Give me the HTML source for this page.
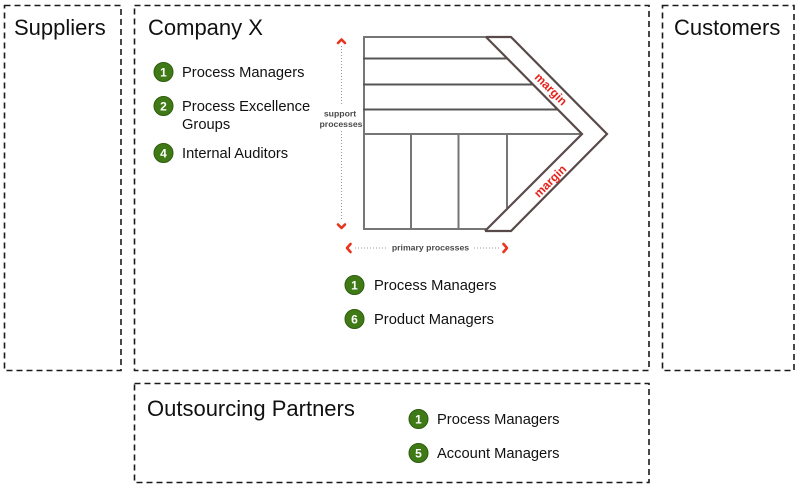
<!DOCTYPE html>
<html>
<head>
<meta charset="utf-8">
<style>
  html, body { margin:0; padding:0; background:#ffffff; }
  body { width:800px; height:485px; overflow:hidden; }
  svg { display:block; }
  .box { fill:none; stroke:#1a1a1a; stroke-width:1.6; stroke-dasharray:6 4; }
  .title { font-family:"Liberation Sans", Arial, sans-serif; font-size:22px; fill:#111; }
  .item { font-family:"Liberation Sans", Arial, sans-serif; font-size:14.7px; fill:#111; }
  .num { font-family:"Liberation Sans", Arial, sans-serif; font-size:12px; font-weight:bold; fill:#fff; text-anchor:middle; }
  .dot { fill:#3f7a16; stroke:#2e5c0e; stroke-width:1; }
  .g { stroke:#767676; stroke-width:2; fill:none; }
  .h { stroke:#555555; stroke-width:2; fill:none; }
  .c { stroke:#594a4a; stroke-width:2.2; fill:none; }
  .small { font-family:"Liberation Sans", Arial, sans-serif; font-size:8.7px; font-weight:bold; fill:#4a4a4a; }
  .margin { font-family:"Liberation Sans", Arial, sans-serif; font-size:12px; font-weight:bold; fill:#e8231b; text-anchor:middle; }
  .arr { stroke:#e8341c; stroke-width:2.6; fill:none; stroke-linecap:round; stroke-linejoin:round; }
  .dots { stroke:#9a9a9a; stroke-width:1; stroke-dasharray:1 2; fill:none; }
</style>
</head>
<body>
<svg width="800" height="485" viewBox="0 0 800 485" xmlns="http://www.w3.org/2000/svg">
  <!-- dashed boxes -->
  <rect class="box" x="4.5" y="5.5" width="116.5" height="365"/>
  <rect class="box" x="134.5" y="5.5" width="514.5" height="365"/>
  <rect class="box" x="662.5" y="5.5" width="131.5" height="365"/>
  <rect class="box" x="134.5" y="383.5" width="514.5" height="99"/>

  <!-- titles -->
  <text class="title" x="14" y="35">Suppliers</text>
  <text class="title" x="148" y="35">Company X</text>
  <text class="title" x="674" y="35">Customers</text>
  <text class="title" x="147" y="416">Outsourcing Partners</text>

  <!-- left list -->
  <circle class="dot" cx="163.5" cy="72" r="9.5"/><text class="num" x="163.5" y="76.5">1</text>
  <text class="item" x="182" y="77">Process Managers</text>
  <circle class="dot" cx="163.5" cy="106" r="9.5"/><text class="num" x="163.5" y="110.5">2</text>
  <text class="item" x="182" y="111">Process Excellence</text>
  <text class="item" x="182" y="129">Groups</text>
  <circle class="dot" cx="163.5" cy="153" r="9.5"/><text class="num" x="163.5" y="157.5">4</text>
  <text class="item" x="182" y="158">Internal Auditors</text>

  <!-- center list -->
  <circle class="dot" cx="354.5" cy="285" r="9.5"/><text class="num" x="354.5" y="289.5">1</text>
  <text class="item" x="374" y="290">Process Managers</text>
  <circle class="dot" cx="354.5" cy="319" r="9.5"/><text class="num" x="354.5" y="323.5">6</text>
  <text class="item" x="374" y="324">Product Managers</text>

  <!-- outsourcing list -->
  <circle class="dot" cx="418.5" cy="419" r="9.5"/><text class="num" x="418.5" y="423.5">1</text>
  <text class="item" x="437" y="424">Process Managers</text>
  <circle class="dot" cx="418.5" cy="453" r="9.5"/><text class="num" x="418.5" y="457.5">5</text>
  <text class="item" x="437" y="458">Account Managers</text>

  <!-- value chain diagram -->
  <line class="g" x1="364" y1="36" x2="364" y2="230"/>
  <line class="h" x1="363" y1="58.5" x2="507" y2="58.5"/>
  <line class="h" x1="363" y1="84.5" x2="533" y2="84.5"/>
  <line class="h" x1="363" y1="109.5" x2="558" y2="109.5"/>
  <line class="g" x1="363" y1="134" x2="582" y2="134"/>
  <line class="g" x1="363" y1="229" x2="486" y2="229"/>
  <line class="g" x1="411" y1="134" x2="411" y2="229"/>
  <line class="g" x1="458.5" y1="134" x2="458.5" y2="229"/>
  <line class="g" x1="507" y1="134" x2="507" y2="208"/>
  <line class="g" x1="363" y1="37" x2="487" y2="37"/>
  <!-- chevron -->
  <polyline class="c" points="486,37 511,37 607,134 511,231 485,231"/>
  <polyline class="c" points="486,37 582,134 485,231"/>

  <text class="margin" transform="translate(548,92) rotate(45)">margin</text>
  <text class="margin" transform="translate(553,184) rotate(-45)">margin</text>

  <!-- support processes arrow -->
  <line class="dots" x1="341.5" y1="46" x2="341.5" y2="106"/>
  <line class="dots" x1="341.5" y1="131" x2="341.5" y2="221"/>
  <polyline class="arr" points="338,43 341.5,39.5 345,43"/>
  <polyline class="arr" points="338,224.5 341.5,228 345,224.5"/>
  <text class="small" x="340" y="116.5" text-anchor="middle">support</text>
  <text class="small" x="341" y="127" text-anchor="middle">processes</text>

  <!-- primary processes arrow -->
  <line class="dots" x1="355" y1="248" x2="386" y2="248"/>
  <line class="dots" x1="474" y1="248" x2="500" y2="248"/>
  <polyline class="arr" points="350.5,244 347,248 350.5,252"/>
  <polyline class="arr" points="503.5,244 507,248 503.5,252"/>
  <text class="small" x="430.5" y="250.5" text-anchor="middle">primary processes</text>
</svg>
</body>
</html>
